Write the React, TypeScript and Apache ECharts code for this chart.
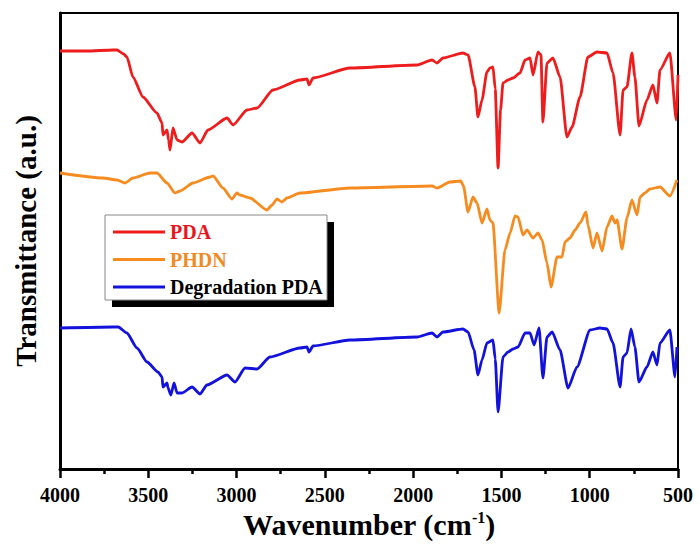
import React, { useEffect, useRef } from "react";
import * as echarts from "echarts";

// Wavenumber (cm^-1) and transmittance (a.u.)
const pdaWn = [4000, 3850, 3700, 3677, 3640, 3621, 3587, 3530, 3451, 3422, 3417, 3394, 3385, 3377, 3360, 3337, 3309, 3252, 3207, 3162, 3054, 3020, 2941, 2884, 2794, 2641, 2601, 2590, 2567, 2358, 1978, 1893, 1865, 1831, 1718, 1689, 1650, 1633, 1610, 1582, 1565, 1548, 1535, 1519, 1505, 1491, 1463, 1434, 1395, 1366, 1338, 1321, 1293, 1276, 1265, 1242, 1208, 1168, 1129, 1100, 1055, 1010, 959, 902, 868, 828, 811, 789, 761, 744, 721, 676, 642, 619, 602, 546, 510, 500];
const pdaT = [418, 418, 419, 419, 415, 412, 392, 372, 356, 346, 334, 339, 329, 319, 341, 329, 327, 336, 326, 339, 351, 344, 359, 361, 379, 389, 390, 384, 391, 401, 404, 409, 406, 411, 416, 414, 382, 352, 369, 397, 401, 402, 380, 301, 359, 386, 389, 391, 396, 409, 411, 394, 417, 414, 347, 406, 411, 392, 332, 342, 372, 412, 417, 416, 396, 334, 379, 382, 416, 392, 343, 369, 384, 366, 399, 416, 349, 394];

const phdnWn = [4000, 3757, 3677, 3632, 3587, 3490, 3451, 3394, 3349, 3320, 3247, 3150, 3133, 3077, 3026, 2998, 2981, 2924, 2828, 2799, 2771, 2743, 2715, 2641, 2358, 1893, 1865, 1791, 1730, 1715, 1689, 1661, 1638, 1610, 1582, 1565, 1548, 1513, 1480, 1451, 1423, 1406, 1378, 1355, 1321, 1293, 1270, 1242, 1219, 1185, 1157, 1140, 1112, 1083, 1055, 1021, 1010, 981, 959, 930, 902, 874, 857, 845, 817, 789, 761, 732, 715, 687, 659, 602, 546, 506];
const phdnT = [296, 291, 289, 286, 291, 296, 296, 286, 276, 278, 286, 292, 293, 281, 270, 276, 274, 271, 259, 264, 270, 267, 271, 276, 281, 283, 281, 287, 288, 283, 257, 272, 266, 246, 260, 249, 246, 156, 219, 236, 253, 252, 234, 239, 231, 236, 229, 206, 182, 212, 212, 227, 231, 239, 246, 257, 244, 221, 236, 218, 242, 253, 246, 249, 220, 251, 269, 254, 272, 276, 280, 282, 273, 289];

const degWn = [4000, 3700, 3670, 3621, 3564, 3507, 3445, 3422, 3417, 3394, 3388, 3372, 3354, 3337, 3309, 3252, 3207, 3168, 3054, 3009, 2952, 2884, 2811, 2641, 2601, 2590, 2567, 2358, 1978, 1893, 1865, 1831, 1718, 1689, 1655, 1633, 1610, 1582, 1548, 1535, 1519, 1491, 1463, 1434, 1406, 1366, 1338, 1315, 1287, 1265, 1242, 1213, 1168, 1123, 1072, 998, 942, 902, 868, 828, 811, 789, 766, 744, 721, 676, 642, 619, 602, 546, 517, 506];
const degT = [141, 142, 142, 136, 121, 107, 97, 92, 82, 86, 81, 74, 86, 76, 76, 82, 75, 84, 94, 87, 101, 100, 112, 121, 122, 117, 123, 129, 132, 136, 132, 137, 140, 137, 119, 94, 109, 126, 129, 110, 57, 112, 117, 120, 122, 136, 136, 124, 141, 91, 132, 137, 119, 81, 102, 139, 141, 140, 126, 82, 112, 116, 140, 122, 87, 102, 117, 104, 126, 139, 92, 122];

const seriesNames = ["PDA", "PHDN", "Degradation PDA"];
const seriesColors = ["#ee1c1c", "#f68b1f", "#1212dc"];
const legendTextColors = ["#e8161c", "#f08a24", "#000000"];
const xTicks = { min: 500, max: 4000, step: 500 };

const zip = (a: number[], b: number[]) => a.map((v, i) => [v, b[i]]);

export default function App() {
  const ref = useRef<HTMLDivElement>(null);
  useEffect(() => {
    if (!ref.current) return;
    const chart = echarts.init(ref.current, null, { renderer: "svg" });
    const font = "Liberation Serif";
    const datas = [zip(pdaWn, pdaT), zip(phdnWn, phdnT), zip(degWn, degT)];
    chart.setOption({
      animation: false,
      backgroundColor: "#fff",
      grid: { left: 60, right: 21, top: 13, bottom: 76, show: true, borderColor: "#000", borderWidth: 2 },
      xAxis: {
        type: "value",
        min: xTicks.min,
        max: xTicks.max,
        interval: xTicks.step,
        inverse: true,
        axisLine: { lineStyle: { color: "#000", width: 3 } },
        axisTick: { length: 9, lineStyle: { color: "#000", width: 2.5 } },
        minorTick: { show: true, splitNumber: 2, length: 5, lineStyle: { color: "#000", width: 2.5 } },
        splitLine: { show: false },
        axisLabel: {
          fontFamily: font, fontWeight: "bold", fontSize: 20, color: "#000", margin: 16,
          formatter: (v: number) => String(v),
        },
        name: "{a|Wavenumber (cm}{s|-1}{a|)}",
        nameLocation: "middle",
        nameGap: 38,
        nameTextStyle: {
          fontFamily: font,
          rich: {
            a: { fontFamily: font, fontWeight: "bold", fontSize: 30, color: "#000" },
            s: { fontFamily: font, fontWeight: "bold", fontSize: 16, color: "#000", verticalAlign: "top", padding: [0, 0, 14, 0] },
          },
        },
      },
      yAxis: {
        type: "value",
        min: 0,
        max: 456,
        axisLine: { show: true, lineStyle: { color: "#000", width: 3 } },
        axisTick: { show: false },
        axisLabel: { show: false },
        splitLine: { show: false },
        name: "Transmittance (a.u.)",
        nameLocation: "middle",
        nameGap: 20,
        nameTextStyle: { fontFamily: font, fontWeight: "bold", fontSize: 29, color: "#000" },
      },
      graphic: [
        { type: "rect", z: 10, shape: { x: 112, y: 222, width: 222, height: 85 }, style: { fill: "#000" } },
        { type: "rect", z: 11, shape: { x: 105, y: 215, width: 222, height: 85 }, style: { fill: "#fff", stroke: "#888", lineWidth: 1 } },
      ],
      legend: {
        z: 12,
        orient: "vertical",
        left: 113,
        top: 222,
        padding: 0,
        itemGap: 7.5,
        itemWidth: 52,
        itemHeight: 3,
        icon: "rect",
        textStyle: { fontFamily: font, fontWeight: "bold", fontSize: 20, lineHeight: 20 },
        data: seriesNames.map((n, i) => ({ name: n, textStyle: { color: legendTextColors[i], fontFamily: font, fontWeight: "bold", fontSize: 20 } })),
      },
      series: seriesNames.map((n, i) => ({
        name: n,
        type: "line",
        data: datas[i],
        showSymbol: false,
        symbol: "none",
        smooth: 0.2,
        smoothMonotone: "x",
        color: seriesColors[i],
        lineStyle: { width: 2.8, color: seriesColors[i] },
      })),
    });
    return () => chart.dispose();
  }, []);
  return <div ref={ref} style={{ width: 699, height: 545, position: "absolute", left: 0, top: 0 }} />;
}
